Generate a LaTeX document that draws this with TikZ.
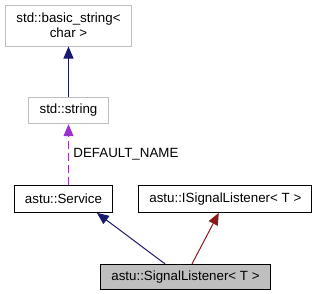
\documentclass[tikz,border=0pt]{standalone}
\usepackage{fontspec}
\setmainfont{Liberation Sans}
\usetikzlibrary{arrows.meta,positioning}

\definecolor{edgeblue}{HTML}{191970}
\definecolor{edgered}{HTML}{8B1A1A}
\definecolor{edgepurple}{HTML}{9A32CD}
\definecolor{boxgray}{HTML}{BFBFBF}

\begin{document}
\begin{tikzpicture}[x=0.75pt,y=-0.75pt,>={Triangle[length=9pt,width=7.5pt]},
                    line width=0.75pt,font=\fontsize{10}{11.5}\selectfont,
                    main node/.style={rectangle,draw,inner xsep=8pt,minimum height=20pt},
                    ext node/.style={main node,draw=boxgray}]
\useasboundingbox (0,0) rectangle (321,293);

\node[ext node,align=center,minimum height=30.75pt] (basic) at (68.5,25.5) {std::basic\_string<\\char >};
\node[ext node] (string) [below=37.5pt of basic] {std::string};
\node[main node] (service) [below=45.75pt of string,xshift=-3.75pt] {astu::Service};
\node[main node] (isl) [right=18.75pt of service] {astu::ISignalListener< T >};
\node[main node,fill=boxgray,minimum height=18.75pt] (sl) [below=38.25pt of service.south east,anchor=north west,xshift=-9.75pt] {astu::SignalListener< T >};

\draw[->,edgeblue] (string) -- (basic);
\draw[->,edgepurple,dashed,dash pattern=on 6pt off 3pt] (string.south |- service.north) -- node[right,black] {DEFAULT\_NAME} (string);
\draw[->,edgeblue] ([xshift=-15.4pt]sl.north) -- ([xshift=25pt]service.south);
\draw[->,edgered] ([xshift=4.9pt]sl.north) -- ([xshift=-4.9pt]isl.south);
\end{tikzpicture}
\end{document}
